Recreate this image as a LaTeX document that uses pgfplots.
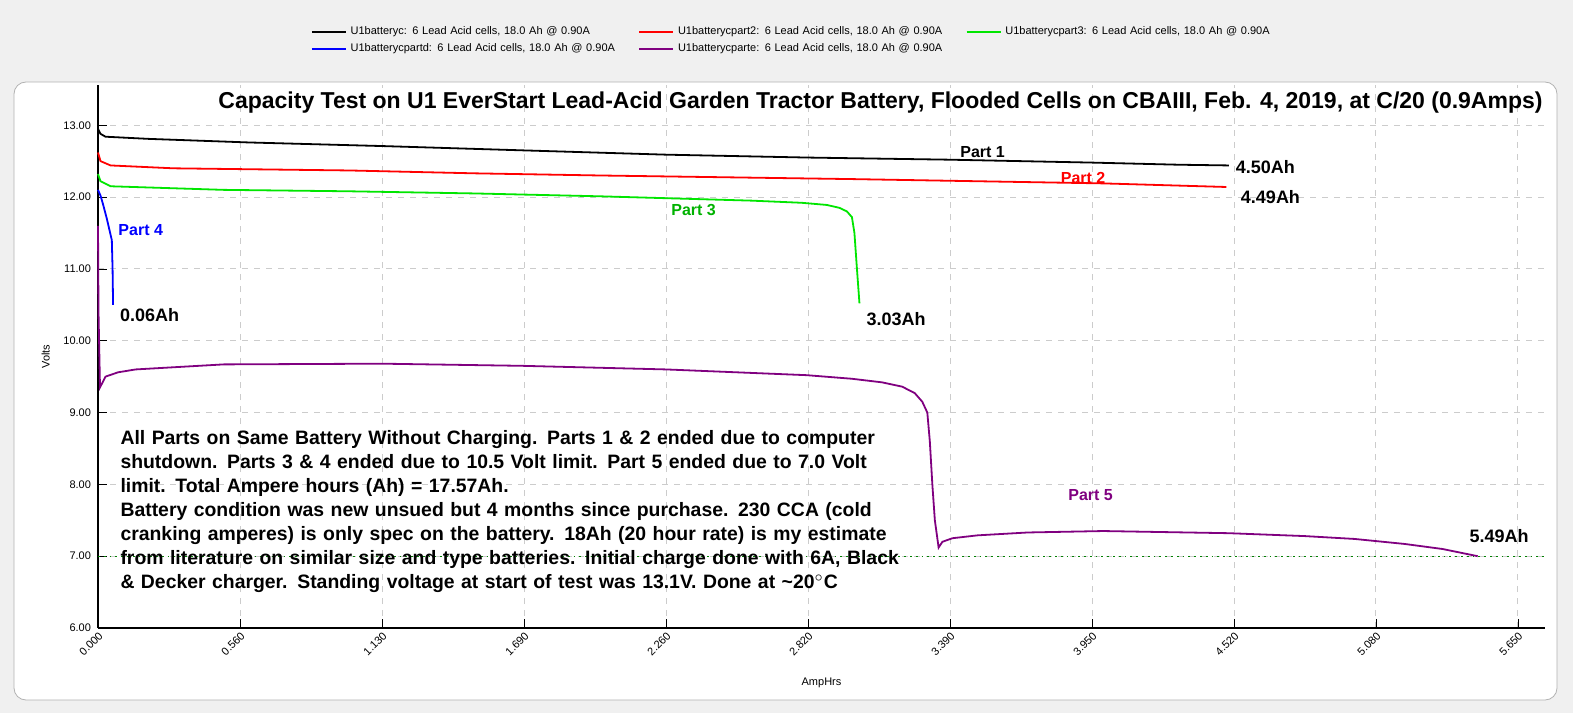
\documentclass[border=0pt]{standalone}
\usepackage{pgfplots}
\pgfplotsset{compat=1.18}
\usepackage{fontspec}
\setmainfont{Liberation Sans}
\definecolor{pgreen}{RGB}{0,230,0}
\definecolor{ppurple}{RGB}{128,0,128}
\definecolor{pblue}{RGB}{0,0,255}
\begin{document}
\begin{tikzpicture}[x=1pt,y=1pt]
\fill[gray!12] (0,0) rectangle (786.5,356.5);
\filldraw[fill=white,draw=gray!60,rounded corners=6pt] (7,6.5) rectangle (778.5,315.5);
\begin{axis}[at={(49pt,42.5pt)},anchor=origin,scale only axis,
 width=723.5pt,height=271.5pt,
 xmin=0,xmax=5.758,ymin=6,ymax=13.56,
 axis x line*=bottom, axis y line*=left, axis line style={black, line width=1pt},
 tick style={black},
 grid=major, grid style={dashed,gray!40},
 xtick={0,0.565,1.13,1.695,2.26,2.825,3.39,3.955,4.52,5.085,5.65},
 xticklabels={0.000,0.560,1.130,1.690,2.260,2.820,3.390,3.950,4.520,5.080,5.650},
 ytick={6,7,...,13},
 yticklabel={\pgfmathprintnumber[fixed,fixed zerofill,precision=2]{\tick}},
 /pgf/number format/assume math mode=true,
 ticklabel style={font=\fontsize{5.5}{6}\selectfont},
 xticklabel style={rotate=45,anchor=north east,inner sep=1pt},
 xlabel={AmpHrs}, ylabel={Volts},
 label style={font=\fontsize{5.5}{6}\selectfont},
 xlabel style={yshift=-6pt},
 legend columns=3,
 legend style={at={(0.143,1.123)},anchor=north west,draw=none,fill=none,
   font=\fontsize{5.5}{6.5}\selectfont,cells={anchor=west,text width=142pt},
   row sep=-1pt},
 legend image post style={line width=0.6pt},
 every axis plot/.append style={line width=0.9pt},
 clip=false]
\addplot[black] coordinates {(0,12.95)(0.01,12.88)(0.03,12.84)(0.2,12.81)(0.6,12.76)(1.13,12.71)(1.69,12.65)(2.26,12.59)(2.82,12.55)(3.39,12.52)(3.95,12.48)(4.3,12.45)(4.50,12.44)};
\addlegendentry{U1batteryc: 6 Lead Acid cells, 18.0 Ah @ 0.90A}
\addplot[red] coordinates {(0,12.62)(0.01,12.5)(0.05,12.44)(0.3,12.40)(1.0,12.37)(1.5,12.33)(2.0,12.30)(2.6,12.27)(3.0,12.25)(3.5,12.22)(4.0,12.19)(4.49,12.14)};
\addlegendentry{U1batterycpart2: 6 Lead Acid cells, 18.0 Ah @ 0.90A}
\addplot[pgreen] coordinates {(0,12.32)(0.01,12.22)(0.05,12.15)(0.5,12.1)(1.0,12.08)(1.5,12.05)(2.0,12.01)(2.3,11.98)(2.6,11.95)(2.8,11.92)(2.9,11.89)(2.95,11.85)(2.98,11.80)(3.0,11.72)(3.01,11.5)(3.02,11.0)(3.03,10.52)};
\addlegendentry{U1batterycpart3: 6 Lead Acid cells, 18.0 Ah @ 0.90A}
\addplot[pblue] coordinates {(0,12.1)(0.01,12.02)(0.02,11.9)(0.035,11.7)(0.045,11.55)(0.055,11.4)(0.058,11.0)(0.06,10.5)};
\addlegendentry{U1batterycpartd: 6 Lead Acid cells, 18.0 Ah @ 0.90A}
\addplot[ppurple] coordinates {(0,11.6)(0.002,10.4)(0.008,9.35)(0.03,9.5)(0.08,9.56)(0.15,9.6)(0.5,9.67)(1.13,9.68)(1.69,9.65)(2.26,9.6)(2.82,9.52)(3.0,9.47)(3.12,9.42)(3.2,9.36)(3.25,9.27)(3.28,9.15)(3.3,9.0)(3.31,8.6)(3.32,8.0)(3.33,7.5)(3.345,7.12)(3.36,7.2)(3.4,7.25)(3.5,7.29)(3.7,7.33)(4.0,7.35)(4.5,7.32)(4.8,7.28)(5.0,7.24)(5.2,7.17)(5.35,7.1)(5.49,7.0)};
\addlegendentry{U1batterycparte: 6 Lead Acid cells, 18.0 Ah @ 0.90A}
\addplot[forget plot,green!50!black,dotted,line width=0.6pt] coordinates {(0,7)(5.758,7)};
\begin{scope}[every node/.style={font=\bfseries\fontsize{8}{9}\selectfont}]
\node[anchor=north east,font=\bfseries\fontsize{11.5}{12}\selectfont,inner sep=1pt] at (axis cs:5.758,13.5) {Capacity Test on U1 EverStart Lead-Acid Garden Tractor Battery, Flooded Cells on CBAIII, Feb. 4, 2019, at C/20 (0.9Amps)};
\node at (axis cs:3.52,12.62) {Part 1};
\node[red] at (axis cs:3.92,12.26) {Part 2};
\node[green!70!black] at (axis cs:2.37,11.82) {Part 3};
\node[pblue] at (axis cs:0.17,11.54) {Part 4};
\node[ppurple] at (axis cs:3.95,7.85) {Part 5};
\node[anchor=west,font=\bfseries\fontsize{9}{10}\selectfont] at (axis cs:4.50,12.42) {4.50Ah};
\node[anchor=west,font=\bfseries\fontsize{9}{10}\selectfont] at (axis cs:4.52,12.0) {4.49Ah};
\node[anchor=west,font=\bfseries\fontsize{9}{10}\selectfont] at (axis cs:3.03,10.3) {3.03Ah};
\node[anchor=west,font=\bfseries\fontsize{9}{10}\selectfont] at (axis cs:0.06,10.35) {0.06Ah};
\node[anchor=west,font=\bfseries\fontsize{9}{10}\selectfont] at (axis cs:5.43,7.28) {5.49Ah};
\node[anchor=north west,text width=420pt,inner sep=1pt,font=\bfseries\fontsize{9.7}{12}\selectfont] at (axis cs:0.08,8.78) {\raggedright All Parts on Same Battery Without Charging. Parts 1 \& 2 ended due to computer\\shutdown. Parts 3 \& 4 ended due to 10.5 Volt limit. Part 5 ended due to 7.0 Volt\\limit. Total Ampere hours (Ah) = 17.57Ah.\\Battery condition was new unsued but 4 months since purchase. 230 CCA (cold\\cranking amperes) is only spec on the battery. 18Ah (20 hour rate) is my estimate\\from literature on similar size and type batteries. Initial charge done with 6A, Black\\\& Decker charger. Standing voltage at start of test was 13.1V. Done at \textasciitilde20$^\circ$C\par};
\end{scope}
\end{axis}
\end{tikzpicture}
\end{document}
